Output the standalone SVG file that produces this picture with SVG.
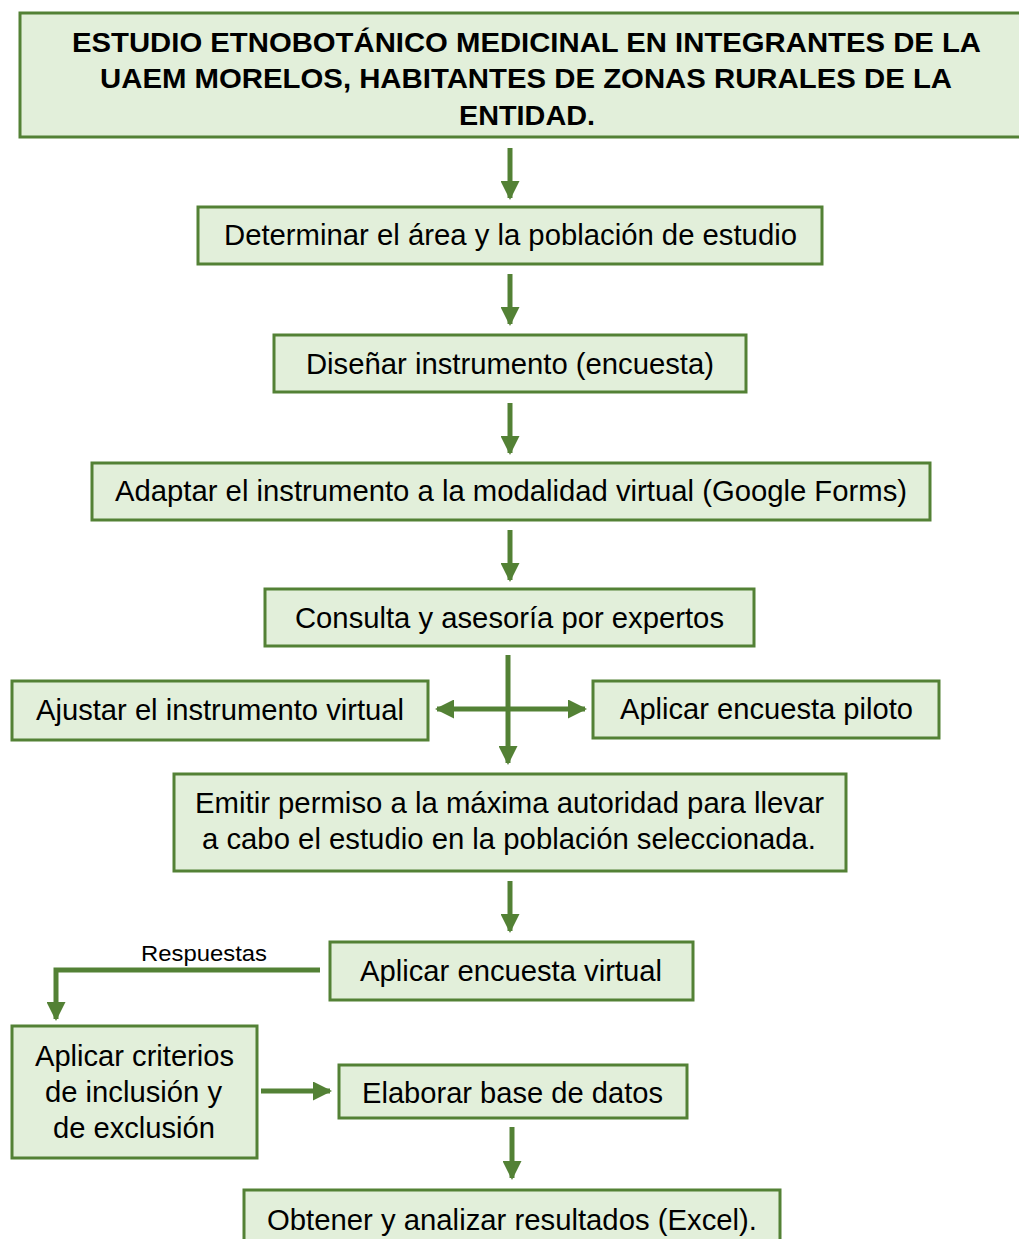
<svg xmlns="http://www.w3.org/2000/svg" width="1019" height="1239" viewBox="0 0 1019 1239">
<style>
.box{fill:#E2EFDA;stroke:#538135;stroke-width:3}
.t{font-family:"Liberation Sans",Arial,sans-serif;font-size:29px;fill:#000;text-anchor:middle;dominant-baseline:central}
.b{font-weight:bold;font-size:28px}
.c{stroke:#538135;stroke-width:5;fill:none}
.s{font-family:"Liberation Sans",Arial,sans-serif;font-size:22px;fill:#000;text-anchor:middle}
</style>
<defs>
<marker id="ah" markerUnits="userSpaceOnUse" markerWidth="19" markerHeight="19" viewBox="0 0 19 19" refX="17" refY="9.5" orient="auto-start-reverse">
<path d="M0,0 L19,9.5 L0,19 Z" fill="#538135"/>
</marker>
</defs>
<rect width="1019" height="1239" fill="#fff"/>
<g id="n1"><rect class="box" x="20" y="13" width="1003" height="124"/>
<text class="t b" x="526.5" y="42" textLength="909" lengthAdjust="spacingAndGlyphs">ESTUDIO ETNOBOTÁNICO MEDICINAL EN INTEGRANTES DE LA</text>
<text class="t b" x="526" y="78" textLength="852" lengthAdjust="spacingAndGlyphs">UAEM MORELOS, HABITANTES DE ZONAS RURALES DE LA</text>
<text class="t b" x="527" y="115" textLength="136" lengthAdjust="spacingAndGlyphs">ENTIDAD.</text></g>
<g id="n2"><rect class="box" x="198" y="207" width="624" height="57"/><text class="t" x="510.5" y="235" textLength="573" lengthAdjust="spacingAndGlyphs">Determinar el área y la población de estudio</text></g>
<g id="n3"><rect class="box" x="274" y="335" width="472" height="57"/><text class="t" x="510" y="364" textLength="408" lengthAdjust="spacingAndGlyphs">Diseñar instrumento (encuesta)</text></g>
<g id="n4"><rect class="box" x="92" y="463" width="838" height="57"/><text class="t" x="511" y="491" textLength="792" lengthAdjust="spacingAndGlyphs">Adaptar el instrumento a la modalidad virtual (Google Forms)</text></g>
<g id="n5"><rect class="box" x="265" y="589" width="489" height="57"/><text class="t" x="509.5" y="618" textLength="429" lengthAdjust="spacingAndGlyphs">Consulta y asesoría por expertos</text></g>
<g id="n6"><rect class="box" x="12" y="681" width="416" height="59"/><text class="t" x="220" y="710" textLength="368" lengthAdjust="spacingAndGlyphs">Ajustar el instrumento virtual</text></g>
<g id="n7"><rect class="box" x="593" y="681" width="346" height="57"/><text class="t" x="766.5" y="709" textLength="293" lengthAdjust="spacingAndGlyphs">Aplicar encuesta piloto</text></g>
<g id="n8"><rect class="box" x="174" y="774" width="672" height="97"/>
<text class="t" x="509.5" y="803" textLength="629" lengthAdjust="spacingAndGlyphs">Emitir permiso a la máxima autoridad para llevar</text>
<text class="t" x="509" y="839" textLength="614" lengthAdjust="spacingAndGlyphs">a cabo el estudio en la población seleccionada.</text></g>
<g id="n9"><rect class="box" x="330" y="942" width="363" height="58"/><text class="t" x="511" y="971" textLength="302" lengthAdjust="spacingAndGlyphs">Aplicar encuesta virtual</text></g>
<g id="n10"><rect class="box" x="12" y="1026" width="245" height="132"/>
<text class="t" x="134.5" y="1056" textLength="199" lengthAdjust="spacingAndGlyphs">Aplicar criterios</text>
<text class="t" x="133.5" y="1092" textLength="177" lengthAdjust="spacingAndGlyphs">de inclusión y</text>
<text class="t" x="134" y="1128" textLength="162" lengthAdjust="spacingAndGlyphs">de exclusión</text></g>
<g id="n11"><rect class="box" x="339" y="1065" width="348" height="53"/><text class="t" x="512.5" y="1093" textLength="301" lengthAdjust="spacingAndGlyphs">Elaborar base de datos</text></g>
<g id="n12"><rect class="box" x="244" y="1190" width="536" height="60"/><text class="t" x="512" y="1220" textLength="490" lengthAdjust="spacingAndGlyphs">Obtener y analizar resultados (Excel).</text></g>
<g id="connectors">
<line class="c" x1="510" y1="148" x2="510" y2="198" marker-end="url(#ah)"/>
<line class="c" x1="510" y1="274" x2="510" y2="324" marker-end="url(#ah)"/>
<line class="c" x1="510" y1="403" x2="510" y2="453" marker-end="url(#ah)"/>
<line class="c" x1="510" y1="530" x2="510" y2="580" marker-end="url(#ah)"/>
<line class="c" x1="508" y1="655" x2="508" y2="763" marker-end="url(#ah)"/>
<line class="c" x1="437" y1="709" x2="585" y2="709" marker-start="url(#ah)" marker-end="url(#ah)"/>
<line class="c" x1="510" y1="881" x2="510" y2="931" marker-end="url(#ah)"/>
<polyline class="c" points="320,970 56,970 56,1019" marker-end="url(#ah)"/>
<text class="s" x="204" y="961" textLength="126" lengthAdjust="spacingAndGlyphs">Respuestas</text>
<line class="c" x1="261" y1="1091" x2="330" y2="1091" marker-end="url(#ah)"/>
<line class="c" x1="512" y1="1127" x2="512" y2="1178" marker-end="url(#ah)"/>
</g>
</svg>
